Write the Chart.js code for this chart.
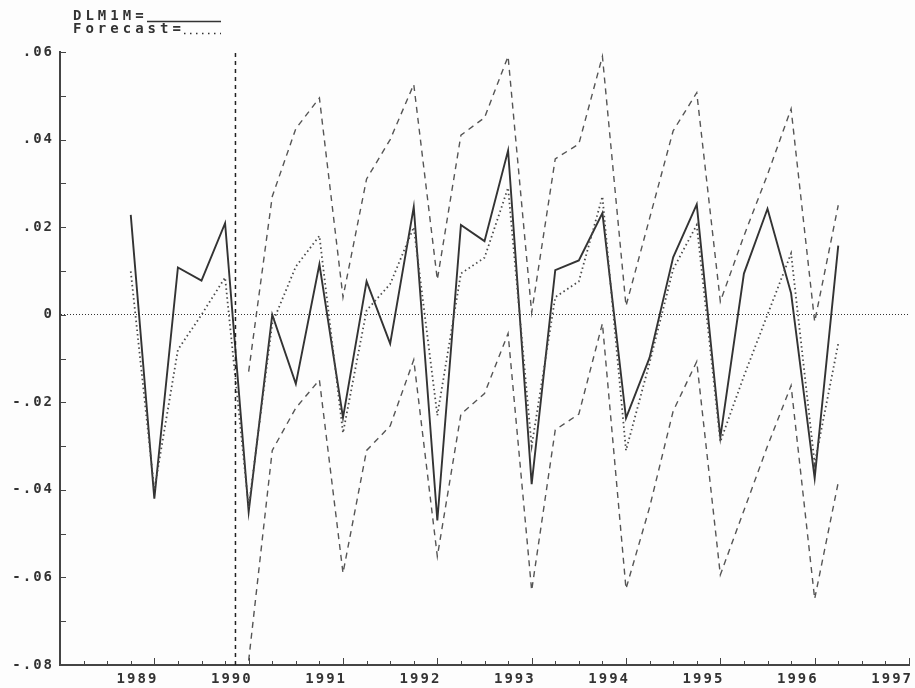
<!DOCTYPE html>
<html>
<head>
<meta charset="utf-8">
<script src="https://cdn.jsdelivr.net/npm/chart.js@4"></script>
<style>
  body { margin: 0; background: #fdfdfd; }
  canvas { display: block; }
</style>
</head>
<body>
<canvas id="chart" width="915" height="688"></canvas>
<script>
// quarterly series, first observation 1988 Q4
const firstQuarter = 1988.75;
const bandFirstQuarter = 1990.0;
const forecastOrigin = 1989.86;
const yearLabels = ['1989', '1990', '1991', '1992', '1993', '1994', '1995', '1996', '1997'];
const seriesNames = ['DLM1M', 'Forecast'];

const dlm1m = [
    0.0228, -0.042, 0.0108, 0.0078, 0.0209,
    -0.045, 0.000, -0.0158, 0.0115,
    -0.0235, 0.0076, -0.0066, 0.0246,
    -0.047, 0.0205, 0.0168, 0.0375,
    -0.0387, 0.0102, 0.0124, 0.0232,
    -0.0236, -0.0098, 0.0131, 0.0252,
    -0.028, 0.0094, 0.0242, 0.0049,
    -0.0373, 0.0158
];

const forecast = [
    0.0099, -0.040, -0.008, 0.000, 0.0085,
    -0.044, -0.002, 0.011, 0.018,
    -0.027, 0.001, 0.007, 0.020,
    -0.023, 0.0094, 0.013, 0.029,
    -0.030, 0.004, 0.0076, 0.027,
    -0.031, -0.011, 0.0104, 0.0205,
    -0.029, -0.014, 0.000, 0.014,
    -0.034, -0.0066
];

const upperBand = [
    -0.013, 0.027, 0.0425, 0.0495,
    0.004, 0.031, 0.040, 0.0526,
    0.008, 0.041, 0.045, 0.059,
    0.0005, 0.0356, 0.039, 0.059,
    0.002, 0.022, 0.042, 0.0507,
    0.003, 0.018, 0.032, 0.047,
    -0.0016, 0.025
];

const lowerBand = [
    -0.079, -0.031, -0.0213, -0.0149,
    -0.059, -0.031, -0.0254, -0.0103,
    -0.0552, -0.0227, -0.018, -0.0043,
    -0.063, -0.0263, -0.0227, -0.002,
    -0.0626, -0.044, -0.022, -0.0107,
    -0.0594, -0.0447, -0.030, -0.0162,
    -0.0649, -0.0383
];

const Y_MIN = -0.08;
const Y_MAX = 0.06;
const FONT = '"DejaVu Sans Mono", "Liberation Mono", monospace';

function toPoints(values, start) {
    return values.map((v, i) => ({ x: start + i * 0.25, y: v }));
}

function fmtY(v) {
    if (Math.abs(v) < 1e-9) return '0';
    return v.toFixed(2).replace('0.', '.');
}

const styleSpacing = {
    id: 'styleSpacing',
    beforeUpdate(chart) { chart.ctx.letterSpacing = '2px'; },
    beforeDraw(chart) {
        const ctx = chart.ctx;
        ctx.save();
        ctx.fillStyle = '#fdfdfd';
        ctx.fillRect(0, 0, chart.width, chart.height);
        ctx.restore();
        ctx.letterSpacing = '2px';
    }
};

// short tick marks pointing into the plot, as in the original output
const innerTicks = {
    id: 'innerTicks',
    afterDraw(chart) {
        const ctx = chart.ctx;
        const x = chart.scales.x, y = chart.scales.y;
        ctx.save();
        ctx.strokeStyle = '#444';
        ctx.lineWidth = 1;
        ctx.setLineDash([]);
        ctx.beginPath();
        for (let q = 1; q <= 36; q++) {
            const px = Math.round(x.getPixelForValue(1988 + q / 4)) + 0.5;
            const len = q % 4 === 0 ? 7 : 4;
            ctx.moveTo(px, y.bottom);
            ctx.lineTo(px, y.bottom - len);
        }
        for (let k = -7; k <= 6; k++) {
            const py = Math.round(y.getPixelForValue(k / 100)) + 0.5;
            ctx.moveTo(x.left, py);
            ctx.lineTo(x.left + 6, py);
        }
        ctx.stroke();
        ctx.restore();
    }
};

const legendText = {
    id: 'legendText',
    afterDraw(chart) {
        const ctx = chart.ctx;
        ctx.save();
        ctx.font = 'bold 14px ' + FONT;
        ctx.letterSpacing = '4px';
        ctx.fillStyle = '#333';
        ctx.textAlign = 'left';
        ctx.textBaseline = 'alphabetic';
        ctx.fillText(seriesNames[0] + '=', 73, 20);
        ctx.fillText(seriesNames[1] + '=', 73, 33);
        ctx.lineWidth = 1.5;
        ctx.strokeStyle = '#333';
        ctx.beginPath();
        ctx.moveTo(147, 21.5);
        ctx.lineTo(221, 21.5);
        ctx.stroke();
        ctx.setLineDash([1.5, 4.5]);
        ctx.beginPath();
        ctx.moveTo(184, 33.5);
        ctx.lineTo(221, 33.5);
        ctx.stroke();
        ctx.restore();
    }
};

const ctx = document.getElementById('chart');
const chart = new Chart(ctx, {
    type: 'line',
    data: {
        datasets: [
            {
                label: 'origin',
                data: [{ x: forecastOrigin, y: Y_MIN }, { x: forecastOrigin, y: Y_MAX }],
                borderColor: '#222',
                borderWidth: 1.5,
                borderDash: [4, 4]
            },
            {
                label: 'upper',
                data: toPoints(upperBand, bandFirstQuarter),
                borderColor: '#555',
                borderWidth: 1.4,
                borderDash: [6, 5]
            },
            {
                label: 'lower',
                data: toPoints(lowerBand, bandFirstQuarter),
                borderColor: '#555',
                borderWidth: 1.4,
                borderDash: [6, 5]
            },
            {
                label: seriesNames[1],
                data: toPoints(forecast, firstQuarter),
                borderColor: '#4a4a4a',
                borderWidth: 1.8,
                borderDash: [1.5, 3]
            },
            {
                label: seriesNames[0],
                data: toPoints(dlm1m, firstQuarter),
                borderColor: '#333',
                borderWidth: 1.9
            }
        ]
    },
    options: {
        responsive: false,
        animation: false,
        devicePixelRatio: 1,
        layout: { padding: { top: 52, right: 6, left: 0, bottom: 0 } },
        elements: {
            point: { radius: 0 },
            line: { tension: 0, fill: false }
        },
        plugins: {
            legend: { display: false },
            tooltip: { enabled: false }
        },
        scales: {
            x: {
                type: 'linear',
                min: 1988,
                max: 1997,
                afterFit: s => { s.height = 23; },
                grid: { display: false, drawTicks: false },
                border: { display: true, color: '#444', width: 2 },
                ticks: {
                    stepSize: 1,
                    autoSkip: false,
                    maxRotation: 0,
                    align: 'end',
                    labelOffset: 4,
                    padding: 6,
                    color: '#333',
                    font: { family: FONT, size: 14, weight: 'bold' },
                    callback: v => yearLabels.includes(String(v)) ? String(v) : ''
                }
            },
            y: {
                min: Y_MIN,
                max: Y_MAX,
                afterFit: s => { s.width = 60; },
                grid: {
                    drawTicks: false,
                    lineWidth: 1,
                    color: c => Math.abs(c.tick.value) < 1e-9 ? '#333' : 'rgba(0,0,0,0)'
                },
                border: { display: true, color: '#444', width: 2, dash: [1, 2] },
                ticks: {
                    stepSize: 0.02,
                    padding: 6,
                    color: '#333',
                    font: { family: FONT, size: 14, weight: 'bold' },
                    callback: fmtY
                }
            }
        }
    },
    plugins: [styleSpacing, innerTicks, legendText]
});
</script>
</body>
</html>
